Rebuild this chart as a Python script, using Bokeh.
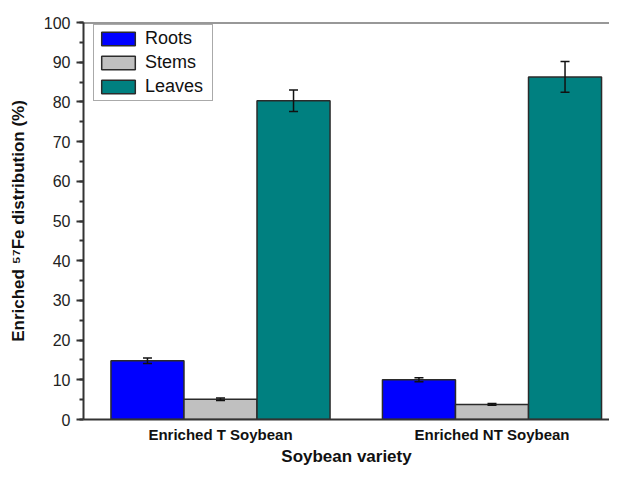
from bokeh.plotting import figure
from bokeh.models import (ColumnDataSource, Whisker, TeeHead, FixedTicker,
                          SingleIntervalTicker, Range1d, Span, Legend, LegendItem)
from bokeh.transform import dodge
from bokeh.embed import file_html
from bokeh.resources import INLINE

varieties = ["Enriched T Soybean", "Enriched NT Soybean"]
tissues = ["Roots", "Stems", "Leaves"]
roots = [14.8, 10.0]
roots_err = [0.7, 0.5]
stems = [5.1, 3.8]
stems_err = [0.3, 0.2]
leaves = [80.3, 86.3]
leaves_err = [2.7, 3.9]
colors = ["#0000FF", "#C0C0C0", "#008080"]

FONT = "Liberation Sans"
pos = list(range(1, len(varieties) + 1))
bar_w = 0.269
offsets = [-bar_w, 0.0, bar_w]

p = figure(width=609, height=469, output_backend="svg", toolbar_location=None,
           x_range=Range1d(0.4954, 2.4328), y_range=Range1d(0, 100),
           min_border_left=83, min_border_top=22, min_border_right=0,
           min_border_bottom=50)
p.outline_line_color = None
p.grid.visible = False
p.background_fill_color = "white"

series = [(roots, roots_err), (stems, stems_err), (leaves, leaves_err)]
items = []
for name, (vals, errs), col, off in zip(tissues, series, colors, offsets):
    src = ColumnDataSource(dict(
        x=pos, top=vals,
        upper=[v + e for v, e in zip(vals, errs)],
        lower=[v - e for v, e in zip(vals, errs)]))
    r = p.vbar(x=dodge("x", off), top="top", bottom=0, width=bar_w, source=src,
               fill_color=col, line_color="#2b2b2b", line_width=1.5)
    items.append(LegendItem(label=name, renderers=[r]))
    w = Whisker(base=dodge("x", off), upper="upper", lower="lower", source=src,
                line_color="#111111", line_width=1.5, level="overlay",
                upper_head=TeeHead(size=9, line_color="#111111", line_width=1.5),
                lower_head=TeeHead(size=9, line_color="#111111", line_width=1.5))
    p.add_layout(w)

p.add_layout(Span(location=100, dimension="width", line_color="#333333", line_width=2))

legend = Legend(items=items, location=(10, 318))
legend.label_text_font = FONT
legend.label_text_font_size = "18px"
legend.label_text_color = "#111111"
legend.glyph_width = 42
legend.glyph_height = 17
legend.label_height = 17
legend.label_width = 64
legend.label_standoff = 6
legend.spacing = 3
legend.padding = 3
legend.margin = 0
legend.border_line_color = "#555555"
legend.border_line_width = 1
legend.background_fill_alpha = 1.0
p.add_layout(legend)

# y axis
ya = p.yaxis[0]
ya.ticker = SingleIntervalTicker(interval=10, num_minor_ticks=2)
ya.axis_label = "Enriched \u2075\u2077Fe distribution (%)"
ya.axis_label_text_font = FONT
ya.axis_label_text_font_style = "bold"
ya.axis_label_text_font_size = "17px"
ya.axis_label_text_color = "#111111"
ya.axis_label_standoff = 13
ya.major_label_text_font = FONT
ya.major_label_text_font_size = "16px"
ya.major_label_text_color = "#222222"
ya.major_label_standoff = 6
ya.major_tick_out = 7
ya.major_tick_in = 0
ya.minor_tick_out = 4
ya.minor_tick_in = 0
ya.axis_line_width = 2
ya.axis_line_color = "#333333"
ya.major_tick_line_width = 2
ya.major_tick_line_color = "#333333"
ya.minor_tick_line_width = 2
ya.minor_tick_line_color = "#333333"

# x axis
xa = p.xaxis[0]
xa.ticker = FixedTicker(ticks=pos)
xa.major_label_overrides = {k: v for k, v in zip(pos, varieties)}
xa.axis_label = "Soybean variety"
xa.axis_label_text_font = FONT
xa.axis_label_text_font_style = "bold"
xa.axis_label_text_font_size = "17px"
xa.axis_label_text_color = "#111111"
xa.axis_label_standoff = 1
xa.major_label_text_font = FONT
xa.major_label_text_font_style = "bold"
xa.major_label_text_font_size = "15px"
xa.major_label_text_color = "#111111"
xa.major_label_standoff = 6
xa.major_tick_line_color = None
xa.major_tick_out = 0
xa.major_tick_in = 0
xa.minor_tick_line_color = None
xa.axis_line_width = 2
xa.axis_line_color = "#333333"

open("out.html", "w").write(file_html(p, INLINE))
